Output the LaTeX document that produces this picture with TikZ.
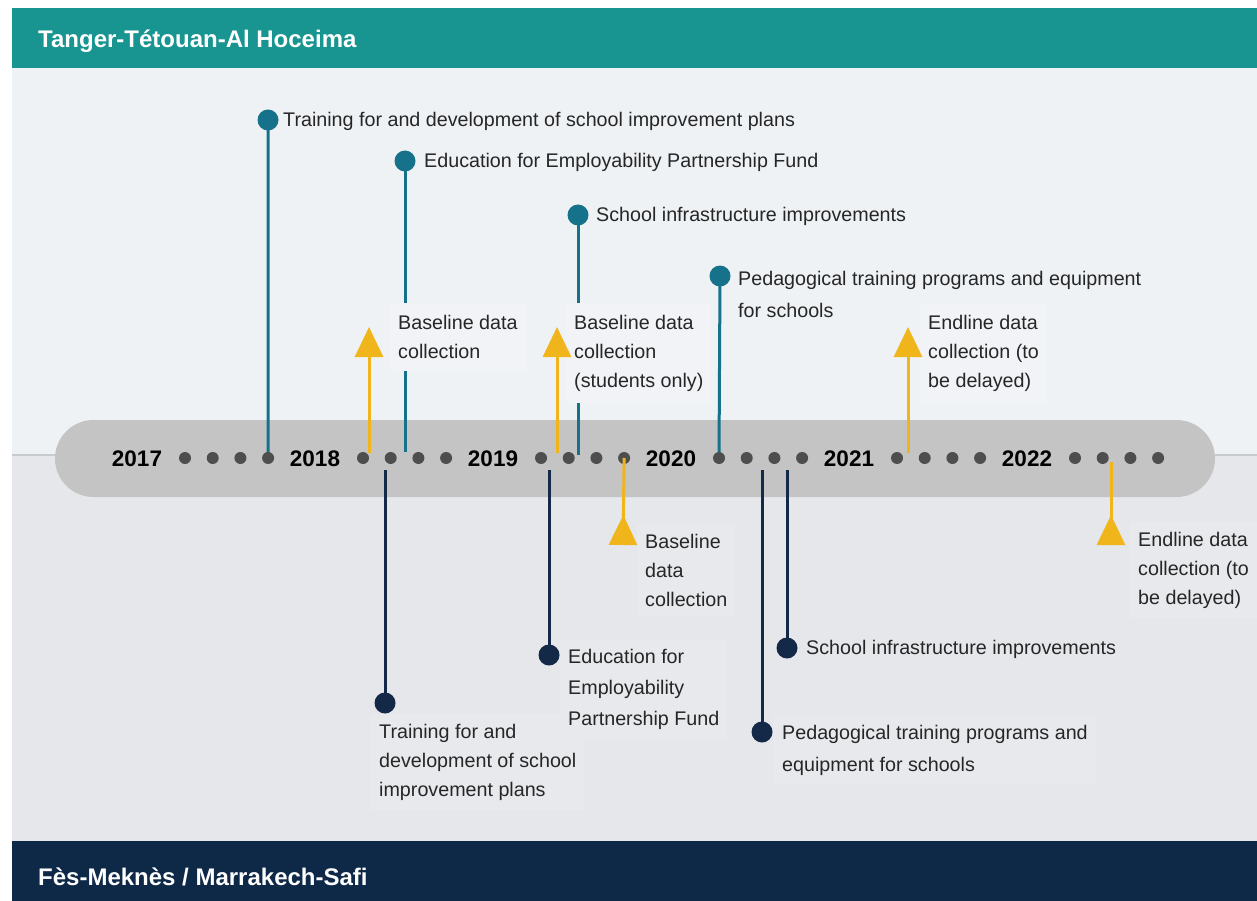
\documentclass[tikz,border=0pt]{standalone}
\usepackage{fontspec}
\setmainfont{Liberation Sans}
\usetikzlibrary{arrows.meta}
\pgfdeclarelayer{back}
\pgfdeclarelayer{mid}
\pgfsetlayers{back,mid,main}
\definecolor{hdrTeal}{RGB}{24,148,145}
\definecolor{navyBar}{RGB}{14,41,71}
\definecolor{bgTop}{RGB}{239,242,245}
\definecolor{bgBot}{RGB}{230,231,235}
\definecolor{lblTop}{RGB}{241,243,246}
\definecolor{lblBot}{RGB}{232,233,236}
\definecolor{tealM}{RGB}{21,114,138}
\definecolor{navyM}{RGB}{20,40,72}
\definecolor{goldM}{RGB}{241,181,28}
\definecolor{barGrey}{RGB}{196,196,196}
\definecolor{lineGrey}{RGB}{200,202,205}
\definecolor{dotGrey}{RGB}{78,78,78}
\definecolor{txt}{RGB}{38,38,38}
\begin{document}
\begin{tikzpicture}[x=1pt,y=-1pt,
  lbl/.style={font=\fontsize{19.7}{29}\selectfont, text=txt, align=left, anchor=west, inner sep=0pt},
  boxT/.style={lbl, fill=lblTop, inner xsep=8pt, inner ysep=12pt},
  boxB/.style={lbl, fill=lblBot, inner xsep=8pt, inner ysep=10pt},
  yr/.style={font=\fontsize{22.5}{26}\selectfont\bfseries, text=black, inner sep=0pt},
  tick/.style={circle, fill=dotGrey, inner sep=0pt, minimum size=12pt},
  tdot/.style={circle, fill=tealM, inner sep=0pt, minimum size=21pt},
  ndot/.style={circle, fill=navyM, inner sep=0pt, minimum size=21pt},
  tline/.style={draw=tealM, line width=3pt},
  nline/.style={draw=navyM, line width=3pt},
  gup/.style={draw=goldM, line width=3pt, -{Triangle[width=28pt,length=30pt,fill=goldM]}},
  gdn/.style={draw=goldM, line width=3pt, -{Triangle[reversed,width=28pt,length=30pt,fill=goldM]}},
  hdr/.style={font=\fontsize{24}{28}\selectfont\bfseries, text=white, anchor=west, inner sep=0pt}
]
\useasboundingbox (0,0) rectangle (1257,901);
\begin{pgfonlayer}{back}
  \fill[white] (0,0) rectangle (1257,901);
  \fill[bgTop] (12,68) rectangle (1257,455);
  \fill[bgBot] (12,455) rectangle (1257,841);
  \fill[hdrTeal] (12,8) rectangle (1257,68);
  \fill[navyBar] (12,841) rectangle (1257,901);
  \draw[lineGrey, line width=1.5pt] (12,455) -- (1257,455);
  \fill[barGrey, rounded corners=38.5pt] (55,420) rectangle (1215,497);
\end{pgfonlayer}

\node[hdr] (hdrA) at (38,41) {Tanger-Tétouan-Al Hoceima};
\node[hdr] (hdrB) at (38,877) {Fès-Meknès / Marrakech-Safi};

% timeline
\foreach \yv [count=\i from 0] in {2017,2018,2019,2020,2021,2022} {
  \node[yr] (y\yv) at ({137+178*\i},459) {\yv};
  \foreach \k in {1,2,3,4}
    \node[tick] (d\yv-\k) at ({137+178*\i+48+27.7*(\k-1)},458) {};
}

% coordinates on the bar
\coordinate (t2e) at (405,452);
\coordinate (t3e) at (578,455);
\coordinate (y1s) at (369,453);
\coordinate (y2s) at (557,453);
\coordinate (y3s) at (908,453);
\coordinate (y1a) at (369,327);
\coordinate (y2a) at (557,327);
\coordinate (y3a) at (908,327);
\coordinate (l2s) at (1111,462);
\coordinate (l1e) at (623,545);
\coordinate (l2e) at (1111,545);
\coordinate (n1s) at (385,470);
\coordinate (n2s) at (549,470);
\coordinate (n3s) at (762,470);
\coordinate (n4s) at (787,470);

% upper labels (Tanger-Tetouan-Al Hoceima)
\node[lbl] (t1l) at (283,121) {Training for and development of school improvement plans};
\node[lbl] (t2l) at (424,162) {Education for Employability Partnership Fund};
\node[lbl] (t3l) at (596,216) {School infrastructure improvements};
\node[lbl, font=\fontsize{19.7}{32}\selectfont] (t4l) at (738,294) {Pedagogical training programs and equipment\\for schools};

\node[boxT] (y1l) at (390,337) {Baseline data\\collection};
\node[boxT] (y2l) at (566,353) {Baseline data\\collection\\(students only)};
\node[boxT] (y3l) at (920,353) {Endline data\\collection (to\\be delayed)};

% lower labels (Fes-Meknes / Marrakech-Safi)
\node[boxB] (n1l) at (371,762) {Training for and\\development of school\\improvement plans};
\node[boxB, font=\fontsize{19.7}{31}\selectfont] (n2l) at (560,689) {Education for\\Employability\\Partnership Fund};
\node[boxB, font=\fontsize{19.7}{32}\selectfont] (n3l) at (774,750) {Pedagogical training programs and\\equipment for schools};
\node[lbl] (n4l) at (806,649) {School infrastructure improvements};

\node[boxB] (l1l) at (637,570) {Baseline\\data\\collection};
\node[boxB] (l2l) at (1130,570) {Endline data\\collection (to\\be delayed)};

% marker circles (on top of the label boxes)
\node[tdot] (t1) at (268,120) {};
\node[tdot] (t2) at (405,161) {};
\node[tdot] (t3) at (578,215) {};
\node[tdot] (t4) at (720,276) {};
\node[ndot] (n1) at (385,703) {};
\node[ndot] (n2) at (549,655) {};
\node[ndot] (n3) at (762,732) {};
\node[ndot] (n4) at (787,648) {};

% connectors behind the labels
\begin{pgfonlayer}{mid}
  \draw[tline] (t1.center) -- (d2017-4.center);
  \draw[tline] (t2.center) -- (t2e);
  \draw[tline] (t3.center) -- (t3e);
  \draw[tline] (t4.center) -- (d2020-1.center);
  \draw[nline] (n1s) -- (n1.center);
  \draw[nline] (n2s) -- (n2.center);
  \draw[nline] (n3s) -- (n3.center);
  \draw[nline] (n4s) -- (n4.center);
\end{pgfonlayer}

% data collection arrows
\draw[gup] (y1s) -- (y1a);
\draw[gup] (y2s) -- (y2a);
\draw[gup] (y3s) -- (y3a);
\draw[gdn] (d2019-4.center) -- (l1e);
\draw[gdn] (l2s) -- (l2e);
\end{tikzpicture}
\end{document}
